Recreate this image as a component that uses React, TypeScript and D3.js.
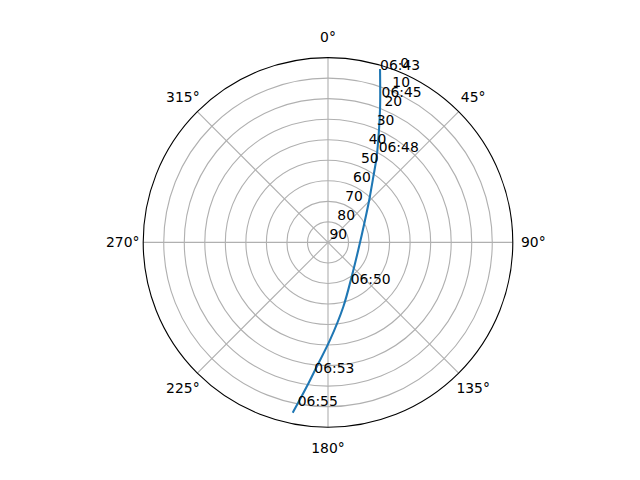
import React from "react";
import * as d3 from "d3";

// satellite pass, sampled off the sky plot (azimuth deg, elevation deg)
const trackAz = [16.8, 21.0, 24.4, 29.6, 34.6, 44.2, 58.8, 104.1, 145.4, 166.6, 178.8, 185.2, 188.4, 191.6];
const trackEl = [2.3, 19.2, 29.9, 42.0, 51.1, 61.2, 68.9, 74.8, 69.7, 57.8, 42.5, 29.2, 18.9, 5.8];

// time stamps along the track
const timeLabels = ["06:43", "06:45", "06:48", "06:50", "06:53", "06:55"];
const timeAz = [16.8, 20.2, 29.2, 151.6, 186.0, 190.5];
const timeEl = [2.3, 14.4, 39.4, 66.8, 26.2, 9.0];

// axis ticks
const angleTicks = [0, 45, 90, 135, 180, 225, 270, 315];
const elevTicks = [0, 10, 20, 30, 40, 50, 60, 70, 80, 90];

const W = 640;
const H = 480;
const cx = 328;
const cy = 242.4;
const R = 184.8;
const font = "'DejaVu Sans', sans-serif";

const App: React.FC = () => {
  const r = d3.scaleLinear().domain([90, 0]).range([0, R]);
  const rad = (deg: number) => (deg * Math.PI) / 180;
  const pos = (az: number, rr: number): [number, number] => [
    rr * Math.sin(rad(az)),
    -rr * Math.cos(rad(az))
  ];

  const line = d3
    .lineRadial<number>()
    .angle(i => rad(trackAz[i]))
    .radius(i => r(trackEl[i]))
    .curve(d3.curveCatmullRom);

  const idx = d3.range(trackAz.length);

  return (
    <svg
      width={W}
      height={H}
      style={{ position: "absolute", left: 0, top: 0, background: "#fff" }}
      fontFamily={font}
      fontSize={13.9}
    >
      <g transform={`translate(${cx},${cy})`}>
        {/* rings */}
        {elevTicks
          .filter(d => d > 0 && d < 90)
          .map(d => (
            <circle key={d} r={r(d)} fill="none" stroke="#b0b0b0" strokeWidth={1.11} />
          ))}
        {/* spokes */}
        {angleTicks.map(a => {
          const [x, y] = pos(a, R);
          return <line key={a} x1={0} y1={0} x2={x} y2={y} stroke="#b0b0b0" strokeWidth={1.11} />;
        })}
        <circle r={R} fill="none" stroke="#000" strokeWidth={1.11} />

        <path d={line(idx) || ""} fill="none" stroke="#1f77b4" strokeWidth={2.08} strokeLinecap="square" />

        {/* angle labels */}
        {angleTicks.map(a => {
          const [x, y] = pos(a, R + 20.5);
          return (
            <text key={a} x={x} y={y} textAnchor="middle" dominantBaseline="central">
              {a}°
            </text>
          );
        })}

        {/* elevation labels */}
        {elevTicks.map(d => {
          const [x, y] = pos(22.5, r(d));
          return (
            <text key={d} x={x + 1.5} y={y - 3.5}>
              {d}
            </text>
          );
        })}

        {/* time labels */}
        {timeLabels.map((t, i) => {
          const [x, y] = pos(timeAz[i], r(timeEl[i]));
          return (
            <text key={t} x={x} y={y}>
              {t}
            </text>
          );
        })}
      </g>
    </svg>
  );
};

export default App;
